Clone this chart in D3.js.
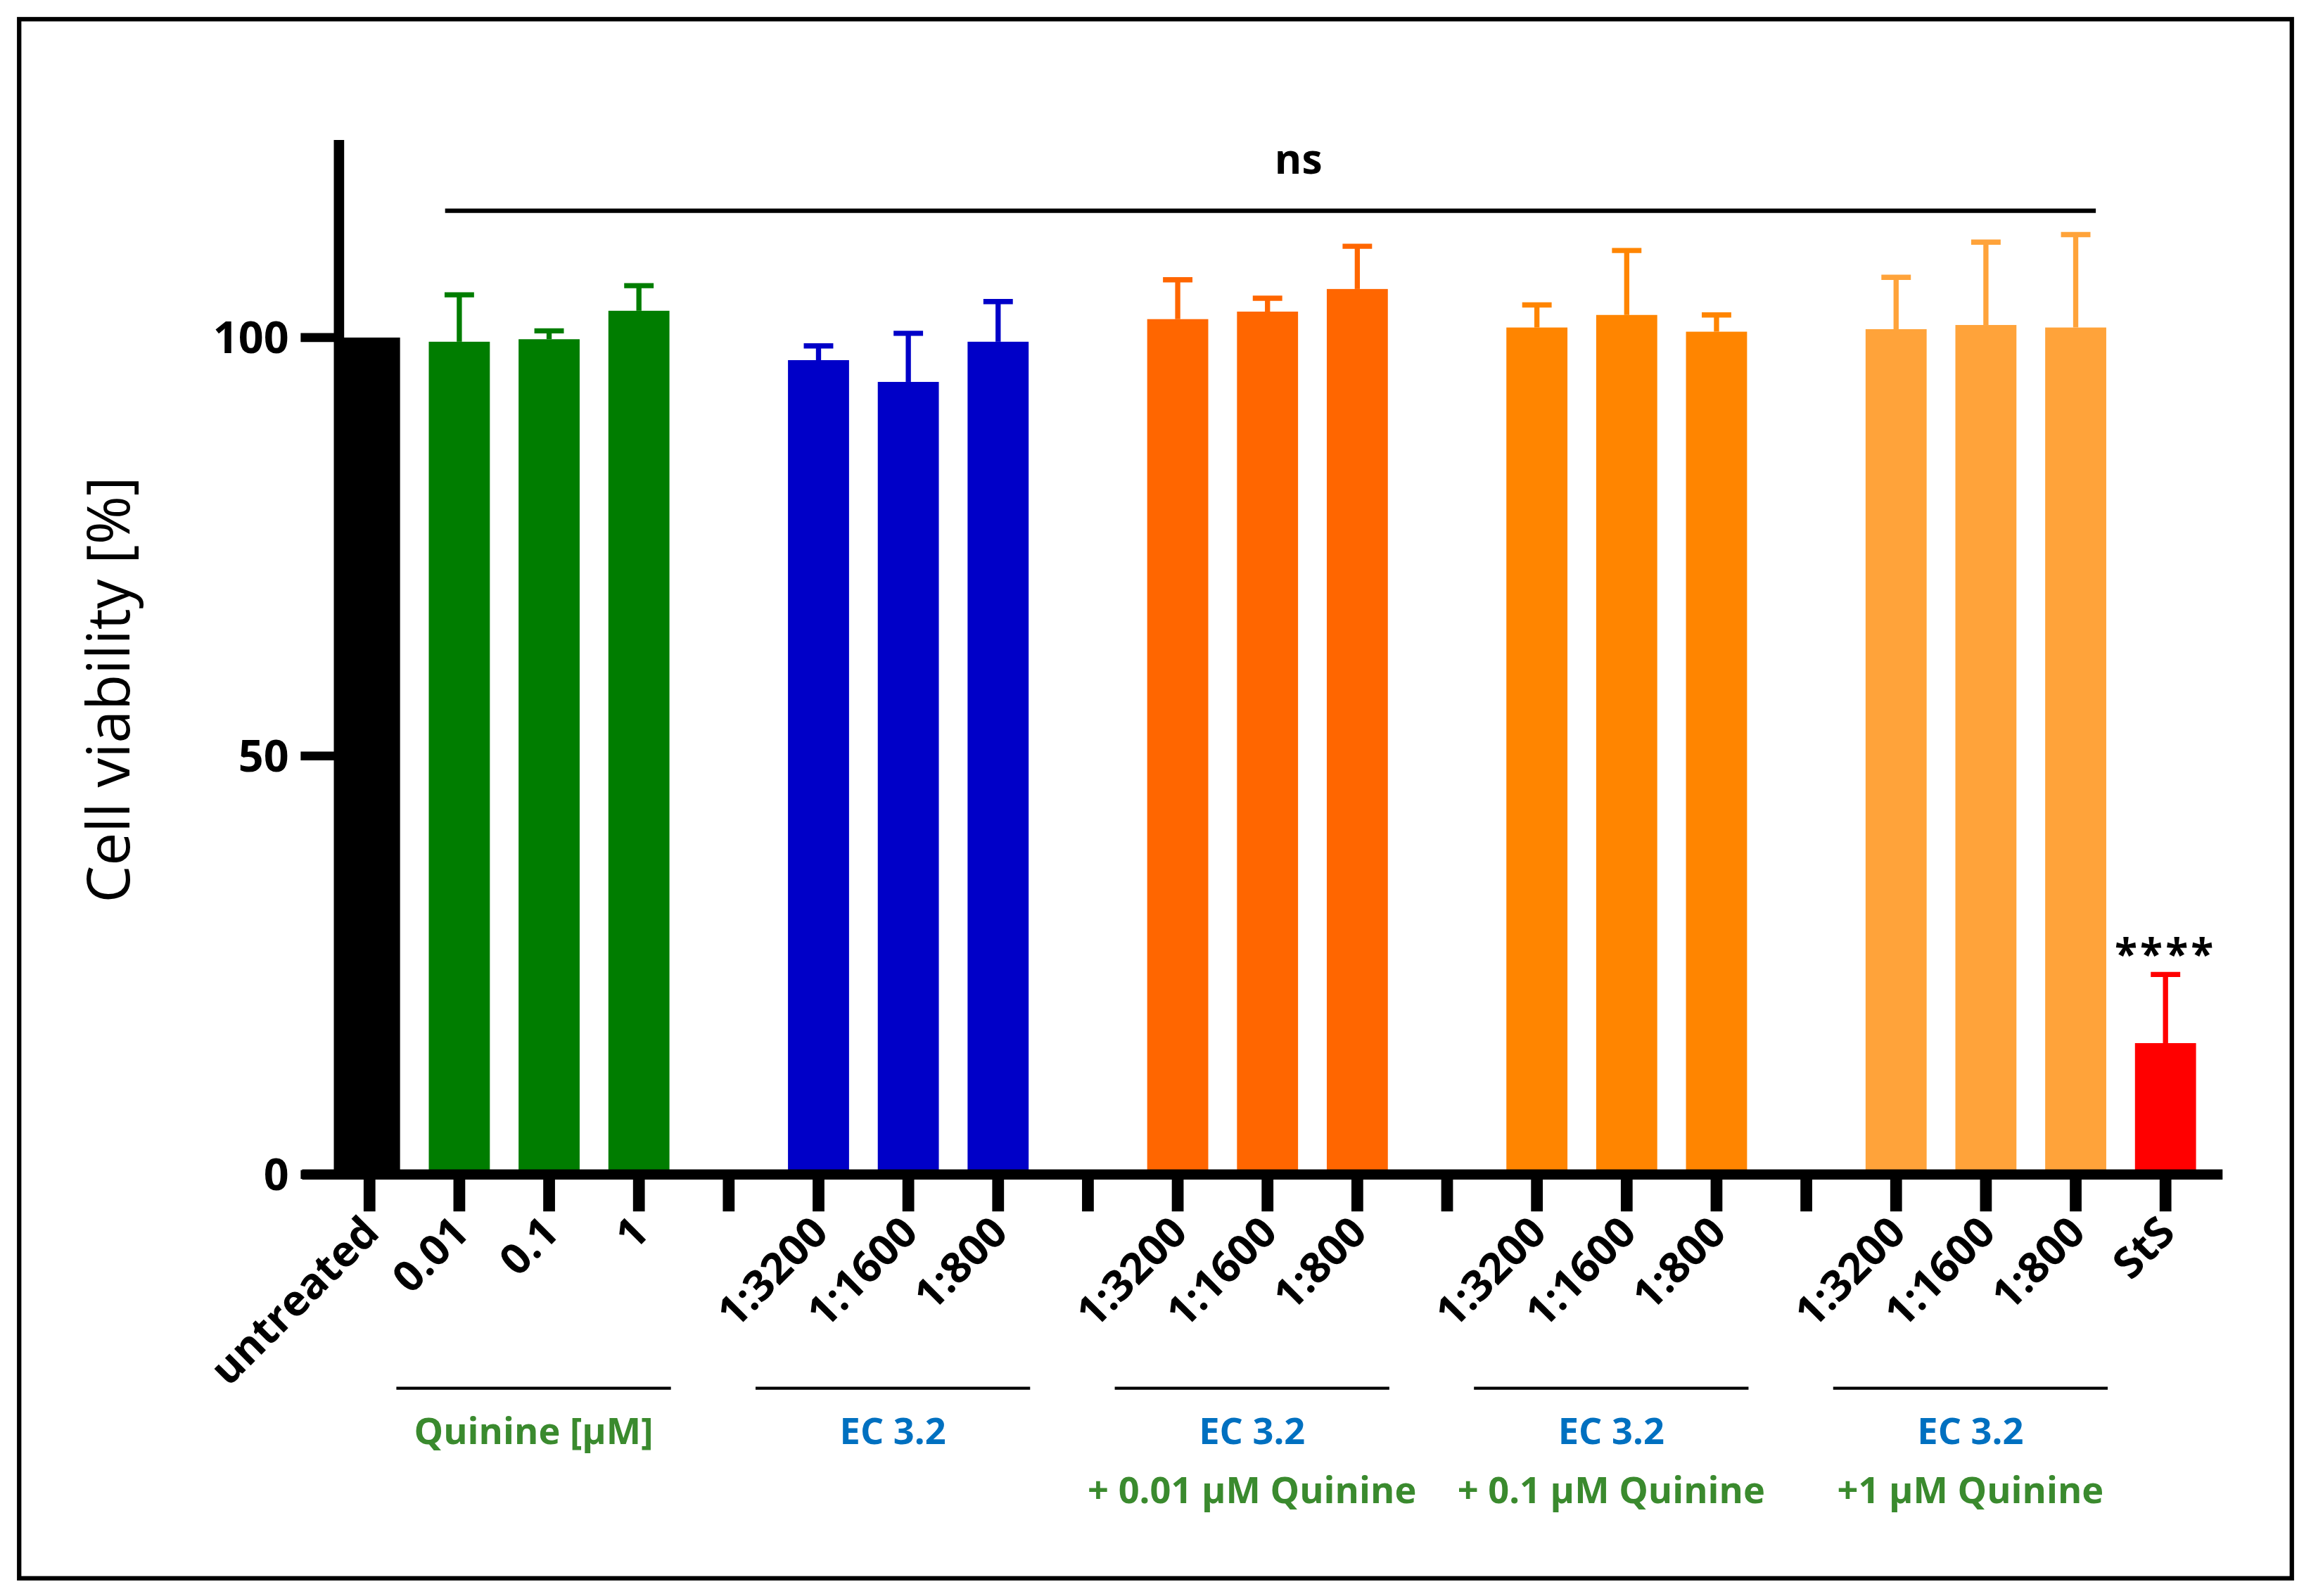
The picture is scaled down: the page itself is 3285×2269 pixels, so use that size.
<!DOCTYPE html>
<html>
<head>
<meta charset="utf-8">
<script src="https://cdn.jsdelivr.net/npm/d3@7"></script>
<style>
body { margin: 0; background: #fff; }
text { font-family: "Open Sans", "DejaVu Sans", sans-serif; }
</style>
</head>
<body>
<div id="chart"></div>
<script>
// categories (empty strings are the gaps between groups)
var categories = ["untreated", "0.01", "0.1", "1", "g1", "1:3200", "1:1600", "1:800", "g2",
  "1:3200 ", "1:1600 ", "1:800 ", "g3", "1:3200  ", "1:1600  ", "1:800  ", "g4",
  "1:3200   ", "1:1600   ", "1:800   ", "StS"];
var means = [100, 99.5, 99.8, 103.2, null, 97.3, 94.7, 99.5, null,
  102.2, 103.1, 105.8, null, 101.2, 102.7, 100.7, null, 101.0, 101.5, 101.2, 15.7];
var errTop = [100, 105.1, 100.8, 106.2, null, 99.0, 100.5, 104.3, null,
  106.9, 104.7, 110.9, null, 103.9, 110.4, 102.7, null, 107.2, 111.4, 112.3, 23.9];
var colors = ["#000000", "#007d00", "#007d00", "#007d00", null, "#0000c8", "#0000c8", "#0000c8", null,
  "#ff6600", "#ff6600", "#ff6600", null, "#ff8500", "#ff8500", "#ff8500", null,
  "#ffa33a", "#ffa33a", "#ffa33a", "#ff0000"];
var yTicks = [0, 50, 100];
var groups = [
  {from: "0.01", to: "1", lines: [["Quinine [µM]", "#3a8a2e"]]},
  {from: "1:3200", to: "1:800", lines: [["EC 3.2", "#0070c0"]]},
  {from: "1:3200 ", to: "1:800 ", lines: [["EC 3.2", "#0070c0"], ["+ 0.01 µM Quinine", "#3a8a2e"]]},
  {from: "1:3200  ", to: "1:800  ", lines: [["EC 3.2", "#0070c0"], ["+ 0.1 µM Quinine", "#3a8a2e"]]},
  {from: "1:3200   ", to: "1:800   ", lines: [["EC 3.2", "#0070c0"], ["+1 µM Quinine", "#3a8a2e"]]}
];

var W = 1568, H = 1083;
var svg = d3.select("#chart").append("svg")
  .attr("width", 3285).attr("height", 2269)
  .attr("viewBox", `0 0 ${W} ${H}`);

svg.append("rect").attr("x", 13).attr("y", 13).attr("width", 1542).attr("height", 1058)
  .attr("fill", "none").attr("stroke", "#000").attr("stroke-width", 3);

var x = d3.scaleBand().domain(categories).range([230, 1490]).paddingInner(0.32).paddingOuter(0);
var y = d3.scaleLinear().domain([0, 123.6]).range([797, 95]);
var cx = d => x(d) + x.bandwidth() / 2;

var data = categories.map((c, i) => ({c: c, v: means[i], e: errTop[i], col: colors[i]}))
  .filter(d => d.v !== null);

// error bars
var eb = svg.append("g").selectAll("g").data(data.filter(d => d.e > d.v)).join("g");
eb.append("line").attr("x1", d => cx(d.c)).attr("x2", d => cx(d.c))
  .attr("y1", d => y(d.v)).attr("y2", d => y(d.e)).attr("stroke", d => d.col).attr("stroke-width", 3.5);
eb.append("line").attr("x1", d => cx(d.c) - 10).attr("x2", d => cx(d.c) + 10)
  .attr("y1", d => y(d.e)).attr("y2", d => y(d.e)).attr("stroke", d => d.col).attr("stroke-width", 3.5);

svg.append("g").selectAll("rect").data(data).join("rect")
  .attr("x", d => x(d.c)).attr("width", x.bandwidth())
  .attr("y", d => y(d.v)).attr("height", d => y(0) - y(d.v))
  .attr("fill", d => d.col);

// y axis
svg.append("line").attr("x1", 230).attr("x2", 230).attr("y1", 95).attr("y2", 799)
  .attr("stroke", "#000").attr("stroke-width", 7);
var ya = svg.append("g").selectAll("g").data(yTicks).join("g");
ya.append("line").attr("x1", 204).attr("x2", 230).attr("y1", d => y(d)).attr("y2", d => y(d))
  .attr("stroke", "#000").attr("stroke-width", 6);
ya.append("text").attr("x", 196).attr("y", d => y(d)).attr("dy", "0.36em")
  .attr("text-anchor", "end").attr("font-family", "DejaVu Sans").attr("font-weight", "bold")
  .attr("font-size", 30).text(d => d);

// x axis
svg.append("line").attr("x1", 205).attr("x2", 1508).attr("y1", 797).attr("y2", 797)
  .attr("stroke", "#000").attr("stroke-width", 7);
svg.append("g").selectAll("line").data(categories).join("line")
  .attr("x1", d => cx(d)).attr("x2", d => cx(d)).attr("y1", 797).attr("y2", 822)
  .attr("stroke", "#000").attr("stroke-width", 8);
svg.append("g").selectAll("text").data(categories.filter(c => c[0] !== "g")).join("text")
  .attr("transform", d => `translate(${cx(d) + 8},${838}) rotate(-45)`)
  .attr("text-anchor", "end").attr("font-weight", "bold").attr("font-size", 29)
  .text(d => d.trim());

svg.append("text").attr("transform", "translate(88,468) rotate(-90)")
  .attr("text-anchor", "middle").attr("font-size", 40).text("Cell viability [%]");

// significance
svg.append("line").attr("x1", 302).attr("x2", 1422).attr("y1", 143).attr("y2", 143)
  .attr("stroke", "#000").attr("stroke-width", 3);
svg.append("text").attr("x", 881).attr("y", 118).attr("text-anchor", "middle")
  .attr("font-weight", "bold").attr("font-size", 28).text("ns");
svg.append("text").attr("x", cx("StS")).attr("y", y(23.9) - 4).attr("text-anchor", "middle")
  .attr("font-weight", "bold").attr("font-size", 28).attr("letter-spacing", 2).text("****");

// group labels
groups.forEach(function(g) {
  var x0 = x(g.from) - 22, x1 = x(g.to) + x.bandwidth() + 1;
  var mid = (x0 + x1) / 2;
  svg.append("line").attr("x1", x0).attr("x2", x1).attr("y1", 942).attr("y2", 942)
    .attr("stroke", "#000").attr("stroke-width", 2);
  g.lines.forEach(function(l, i) {
    svg.append("text").attr("x", mid).attr("y", 980 + i * 40).attr("text-anchor", "middle")
      .attr("font-weight", "bold").attr("font-size", 25).attr("fill", l[1]).text(l[0]);
  });
});
</script>
</body>
</html>
